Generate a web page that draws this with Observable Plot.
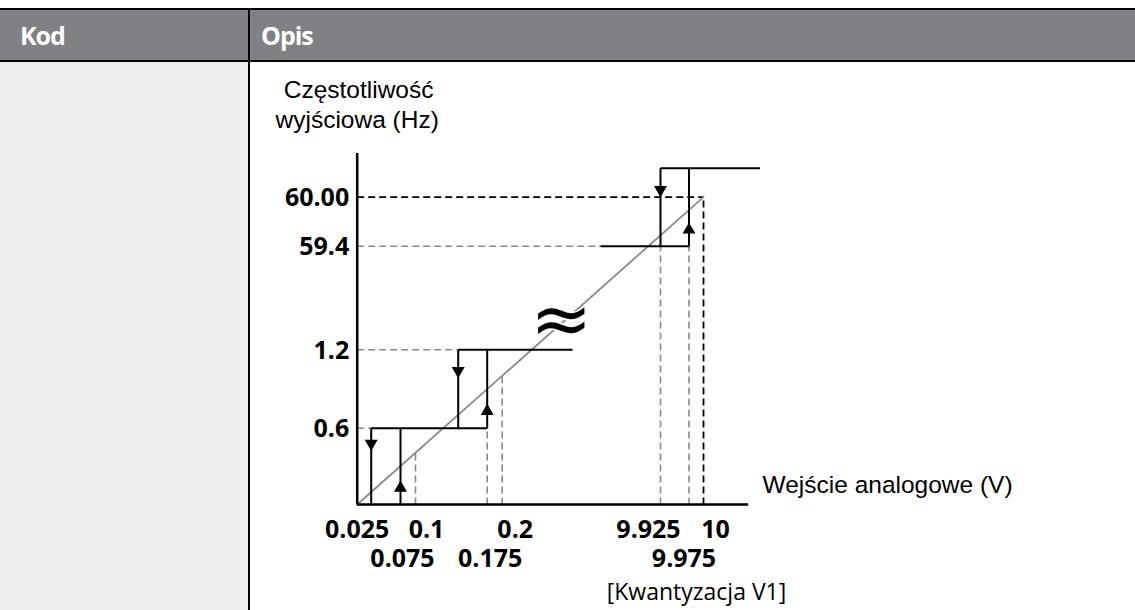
<!DOCTYPE html>
<html>
<head>
<meta charset="utf-8">
<script src="https://cdn.jsdelivr.net/npm/d3@7"></script>
<script src="https://cdn.jsdelivr.net/npm/@observablehq/plot@0.6"></script>
<style>
  html, body { margin: 0; padding: 0; background: #fff; }
  #page { position: relative; width: 1135px; height: 610px; overflow: hidden; }
  .topline { position: absolute; left: 0; top: 7.5px; width: 1135px; height: 2.5px; background: #000; }
  .header { position: absolute; left: 0; top: 10px; width: 1135px; height: 50px; background: #808185; }
  .headline { position: absolute; left: 0; top: 60px; width: 1135px; height: 2px; background: #000; }
  .leftcol { position: absolute; left: 0; top: 62px; width: 248px; height: 548px; background: #eeeeee; }
  .vline { position: absolute; left: 248px; top: 10px; width: 2px; height: 600px; background: #000; }
  .hd { position: absolute; top: 23px; line-height: 1; color: #fff; font-family: "Open Sans"; font-weight: 700; font-size: 25px; letter-spacing: -1px; }
  #chart { position: absolute; left: 0; top: 0; }
  #chart svg { background: none; }
</style>
</head>
<body>
<div id="page">
  <div class="header"></div>
  <div class="topline"></div>
  <div class="headline"></div>
  <div class="leftcol"></div>
  <div class="vline"></div>
  <div class="hd" style="left:20px">Kod</div>
  <div class="hd" style="left:261px">Opis</div>
  <div id="chart"></div>
</div>
<script>
// ---------------- data ----------------
const headerLabels = ["Kod", "Opis"];
const yAxisTitle = ["Częstotliwość", "wyjściowa (Hz)"];
const xAxisTitle = "Wejście analogowe (V)";
const caption = "[Kwantyzacja V1]";

// y ticks (output frequency, Hz)
const yTicks = [0.6, 1.2, 59.4, 60];
const yTickLabels = ["0.6", "1.2", "59.4", "60.00"];

// x ticks (analog input, V) — two label rows
const xTicksTop = [0.025, 0.1, 0.2, 9.925, 10];
const xTickLabelsTop = ["0.025", "0.1", "0.2", "9.925", "10"];
const xTicksBottom = [0.075, 0.175, 9.975];
const xTickLabelsBottom = ["0.075", "0.175", "9.975"];

// quantized output staircase (solid black segments)
const steps = [
  {x1: 0.025, y1: 0.6, x2: 0.175, y2: 0.6},
  {x1: 0.025, y1: 0,   x2: 0.025, y2: 0.6},
  {x1: 0.075, y1: 0,   x2: 0.075, y2: 0.6},
  {x1: 0.125, y1: 1.2, x2: 0.25,  y2: 1.2},
  {x1: 0.125, y1: 0.6, x2: 0.125, y2: 1.2},
  {x1: 0.175, y1: 0.6, x2: 0.175, y2: 1.2},
  {x1: 9.875, y1: 59.4, x2: 9.975, y2: 59.4},
  {x1: 9.925, y1: 59.4, x2: 9.925, y2: 60.6},
  {x1: 9.975, y1: 59.4, x2: 9.975, y2: 60.6},
  {x1: 9.925, y1: 60.6, x2: 10.2,  y2: 60.6}
];

// gray dashed guide lines
const guidesGray = [
  {x1: 0, y1: 0.6,  x2: 0.025, y2: 0.6},
  {x1: 0, y1: 1.2,  x2: 0.125, y2: 1.2},
  {x1: 0, y1: 59.4, x2: 9.875, y2: 59.4},
  {x1: 0.175, y1: 0, x2: 0.175, y2: 0.6},
  {x1: 9.925, y1: 0, x2: 9.925, y2: 59.4},
  {x1: 9.975, y1: 0, x2: 9.975, y2: 59.4}
];
// gray dashed verticals that rise to the ideal line
const guidesToIdeal = [0.1, 0.2];

// black dashed guide lines (full scale)
const guidesBlack = [
  {x1: 0, y1: 60, x2: 10, y2: 60},
  {x1: 10, y1: 0, x2: 10, y2: 60}
];

// ideal (unquantized) characteristic
const ideal = [{x: 0, y: 0}, {x: 10, y: 60}];

// hysteresis arrows
const arrowsDown = [{x: 0.025, y: 0.48}, {x: 0.125, y: 1.04}, {x: 9.925, y: 60.155}];
const arrowsUp   = [{x: 0.075, y: 0.13}, {x: 0.175, y: 0.73}, {x: 9.975, y: 59.6}];

// axis break marker
const axisBreak = [{x: 0.242, y: 18.8, label: "≈"}];

// axis extents
const xAxisEnd = 10.16;
const yAxisEnd = 60.9;

// ---------------- layout (schematic, piecewise scales) ----------------
const xDomain = [0, 0.025, 0.075, 0.1, 0.125, 0.175, 0.2, 0.25, 9.875, 9.925, 9.975, 10, 10.2];
const xRange  = [356.7, 370.7, 400, 415, 457.7, 486.7, 501.7, 572, 600, 660, 688.5, 703, 759.5];
const yDomain = [0, 0.6, 1.2, 59.4, 60, 60.6, 60.9];
const yRange  = [504, 427.7, 349.3, 245.7, 196.7, 167.7, 153];

const xs = d3.scaleLinear(xDomain, xRange);
const ys = d3.scaleLinear(yDomain, yRange);
// value on the (straight, drawn) ideal line at input v
function idealAt(v) {
  const t = (xs(v) - xs(ideal[0].x)) / (xs(ideal[1].x) - xs(ideal[0].x));
  return ys.invert(ys(ideal[0].y) + t * (ys(ideal[1].y) - ys(ideal[0].y)));
}
const guidesIdeal = guidesToIdeal.map(v => ({x1: v, y1: 0, x2: v, y2: idealAt(v)}));

const triangleDown = {
  draw(context, size) {
    const s3 = Math.sqrt(3);
    const y = Math.sqrt(size / (s3 * 3));
    context.moveTo(0, 2 * y);
    context.lineTo(-s3 * y, -y);
    context.lineTo(s3 * y, -y);
    context.closePath();
  }
};

const tickFont = {fontFamily: "Open Sans", fontWeight: 700, fontSize: 25, fill: "black"};
const topOffsets = [-14, 11, 13, -12, 12];
const bottomOffsets = [2, 3, -5];

const marks = [
  // guides
  Plot.link(guidesGray, {x1: "x1", y1: "y1", x2: "x2", y2: "y2", stroke: "#8a8a8a", strokeWidth: 1.6, strokeDasharray: "7,4"}),
  Plot.link(guidesIdeal, {x1: "x1", y1: "y1", x2: "x2", y2: "y2", stroke: "#8a8a8a", strokeWidth: 1.6, strokeDasharray: "7,4"}),
  Plot.link(guidesBlack, {x1: "x1", y1: "y1", x2: "x2", y2: "y2", stroke: "black", strokeWidth: 1.8, strokeDasharray: "7,4"}),
  // ideal line
  Plot.line(ideal, {x: "x", y: "y", stroke: "#8a8a8a", strokeWidth: 1.8}),
  // staircase
  Plot.link(steps, {x1: "x1", y1: "y1", x2: "x2", y2: "y2", stroke: "black", strokeWidth: 2}),
  // arrows
  Plot.dot(arrowsDown, {x: "x", y: "y", symbol: triangleDown, r: 4.8, fill: "black"}),
  Plot.dot(arrowsUp, {x: "x", y: "y", symbol: "triangle", r: 4.8, fill: "black"}),
  // axes
  Plot.ruleX([0], {y1: 0, y2: yAxisEnd, stroke: "black", strokeWidth: 2.5}),
  Plot.ruleY([0], {x1: 0, x2: xAxisEnd, stroke: "black", strokeWidth: 2.5}),
  // axis break
  Plot.text(axisBreak, {x: "x", y: "y", text: "label", fontFamily: "DejaVu Sans", fontSize: 74, fill: "black", stroke: "white", strokeWidth: 3, lineAnchor: "middle", dy: 2}),
  // y tick labels
  Plot.text(yTicks, {x: 0, y: d => d, text: (d, i) => yTickLabels[i], textAnchor: "end", dx: -8, dy: 1, lineAnchor: "middle", ...tickFont}),
  // x tick labels, row 1 and row 2
  ...xTicksTop.map((v, i) => Plot.text([v], {x: d => d, y: 0, text: () => xTickLabelsTop[i], dx: topOffsets[i], dy: 25.4, lineAnchor: "middle", ...tickFont})),
  ...xTicksBottom.map((v, i) => Plot.text([v], {x: d => d, y: 0, text: () => xTickLabelsBottom[i], dx: bottomOffsets[i], dy: 54.7, lineAnchor: "middle", ...tickFont})),
  // caption
  Plot.text([caption], {x: 9.975, y: 0, text: d => d, dx: 7.5, dy: 95, lineAnchor: "bottom", fontFamily: "Open Sans", fontSize: 23, fill: "black"}),
  // axis titles
  Plot.text([yAxisTitle[0]], {x: 0, y: yAxisEnd, text: d => d, textAnchor: "start", dx: -73.5, dy: -56, lineAnchor: "bottom", fontFamily: "Liberation Sans", fontSize: 24.5, fill: "black"}),
  Plot.text([yAxisTitle[1]], {x: 0, y: yAxisEnd, text: d => d, textAnchor: "start", dx: -81.7, dy: -26, lineAnchor: "bottom", fontFamily: "Liberation Sans", fontSize: 24.5, fill: "black"}),
  Plot.text([xAxisTitle], {x: xAxisEnd, y: 0, text: d => d, textAnchor: "start", dx: 13.8, dy: -12, lineAnchor: "bottom", fontFamily: "Liberation Sans", fontSize: 24.5, fill: "black"})
];

const chart = Plot.plot({
  width: 1135,
  height: 610,
  margin: 0,
  style: {background: "none", overflow: "visible"},
  x: {type: "linear", domain: xDomain, range: xRange, axis: null},
  y: {type: "linear", domain: yDomain, range: yRange, axis: null},
  marks
});
document.getElementById("chart").appendChild(chart);
</script>
</body>
</html>
